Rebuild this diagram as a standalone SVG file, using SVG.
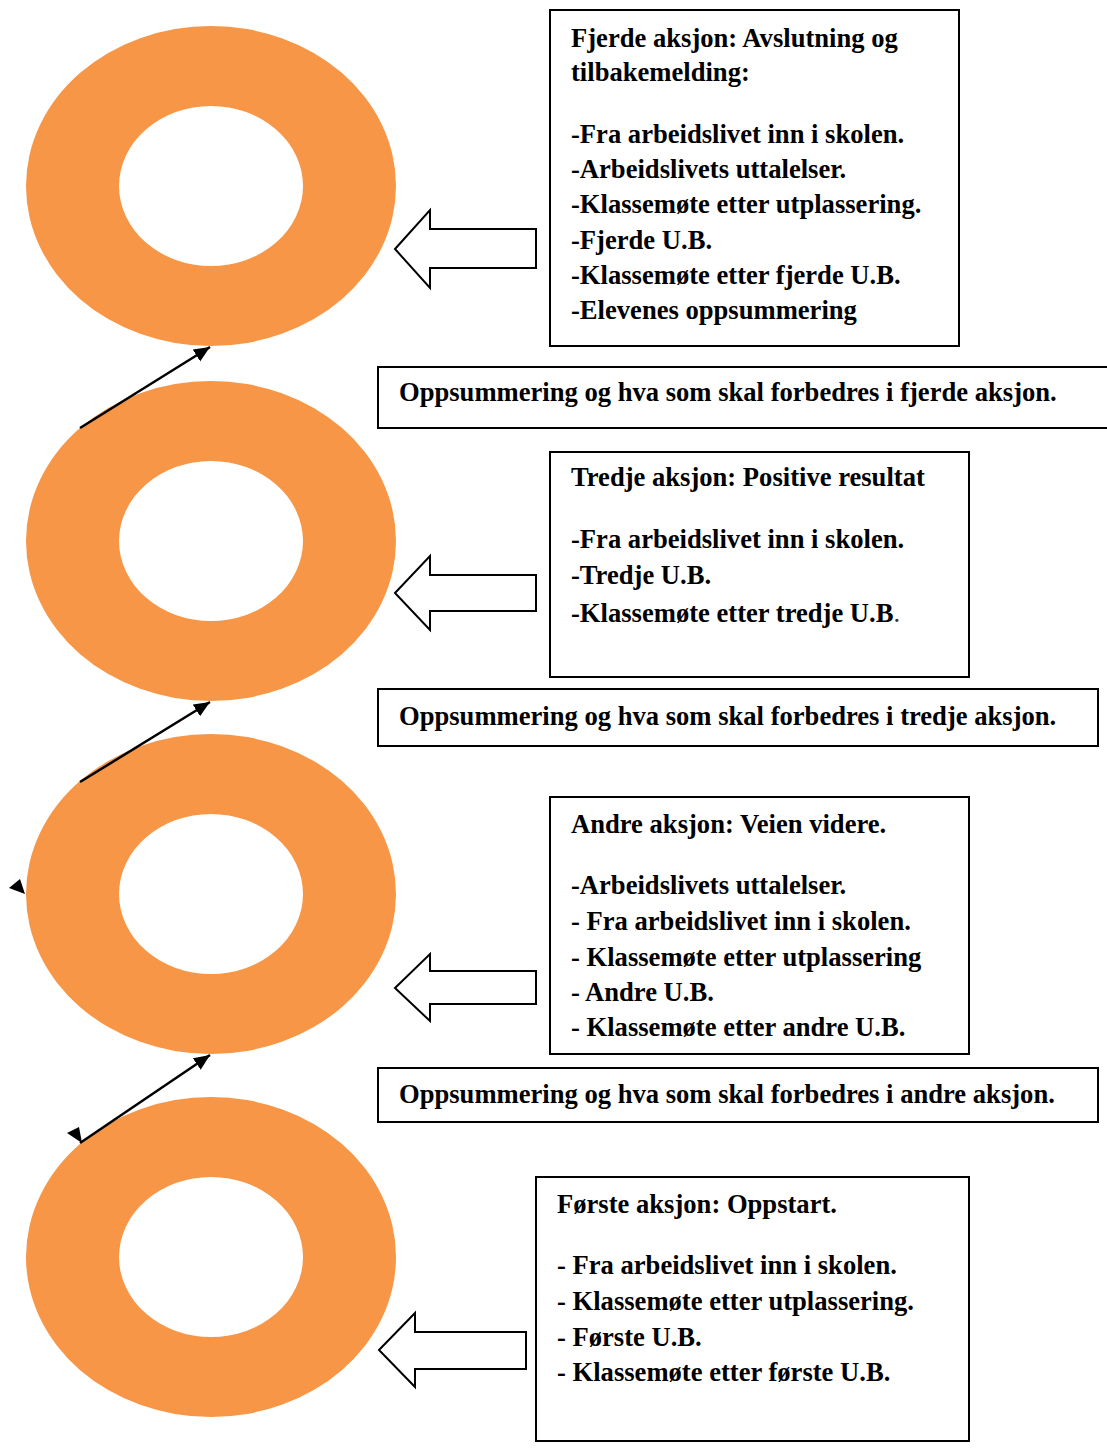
<svg xmlns="http://www.w3.org/2000/svg" width="1107" height="1448" viewBox="0 0 1107 1448">
<style>
.ring{fill:#F79646;fill-rule:evenodd}
.box{fill:#fff;stroke:#000;stroke-width:2}
.barrow{fill:#fff;stroke:#000;stroke-width:2;stroke-linejoin:miter}
.t{font-family:"Liberation Serif","Times New Roman",serif;font-weight:bold;font-size:26.6px;fill:#000}
.conn{stroke:#000;stroke-width:2.5;fill:none}
.head{fill:#000}
</style>
<defs>
<marker id="ah" markerUnits="userSpaceOnUse" markerWidth="18" markerHeight="16" refX="16" refY="7" orient="auto">
<path d="M0,0 L16,7 L0,14 Z" fill="#000"/>
</marker>
</defs>
<rect width="1107" height="1448" fill="#fff"/>
<g id="ring4">
<path class="ring" d="M26,186 a185,160 0 1,0 370,0 a185,160 0 1,0 -370,0 Z M119,186 a92,80 0 1,0 184,0 a92,80 0 1,0 -184,0 Z"/>
</g>
<g id="ring3">
<path class="ring" d="M26,541 a185,160 0 1,0 370,0 a185,160 0 1,0 -370,0 Z M119,541 a92,80 0 1,0 184,0 a92,80 0 1,0 -184,0 Z"/>
</g>
<g id="ring2">
<path class="ring" d="M26,894 a185,160 0 1,0 370,0 a185,160 0 1,0 -370,0 Z M119,894 a92,80 0 1,0 184,0 a92,80 0 1,0 -184,0 Z"/>
</g>
<g id="ring1">
<path class="ring" d="M26,1257 a185,160 0 1,0 370,0 a185,160 0 1,0 -370,0 Z M119,1257 a92,80 0 1,0 184,0 a92,80 0 1,0 -184,0 Z"/>
</g>
<g id="connectors">
<line class="conn" x1="80" y1="428" x2="210" y2="347" marker-end="url(#ah)"/>
<line class="conn" x1="80" y1="782" x2="210" y2="702" marker-end="url(#ah)"/>
<line class="conn" x1="80" y1="1143" x2="210" y2="1055" marker-end="url(#ah)"/>
<polygon class="head" points="9,888 20,879 25,894"/>
<polygon class="head" points="67,1133 79,1127 82,1143"/>
<polygon class="barrow" points="395,249 430,210 430,229 536,229 536,268 430,268 430,288"/>
<polygon class="barrow" points="395,593 430,556 430,575 536,575 536,611 430,611 430,630"/>
<polygon class="barrow" points="395,988 430,954 430,971 536,971 536,1004 430,1004 430,1021"/>
<polygon class="barrow" points="379,1350 415,1313 415,1332 526,1332 526,1369 415,1369 415,1387"/>
</g>
<g id="box-fjerde">
<rect class="box" x="550" y="10" width="409" height="336"/>
<text class="t" x="571" y="47">Fjerde aksjon: Avslutning og</text>
<text class="t" x="571" y="81">tilbakemelding:</text>
<text class="t" x="571" y="143">-Fra arbeidslivet inn i skolen.</text>
<text class="t" x="571" y="178">-Arbeidslivets uttalelser.</text>
<text class="t" x="571" y="213">-Klassemøte etter utplassering.</text>
<text class="t" x="571" y="249">-Fjerde U.B.</text>
<text class="t" x="571" y="284">-Klassemøte etter fjerde U.B.</text>
<text class="t" x="571" y="319">-Elevenes oppsummering</text>
</g>
<g id="sum-fjerde">
<rect class="box" x="378" y="367" width="740" height="61"/>
<text class="t" x="399" y="401">Oppsummering og hva som skal forbedres i fjerde aksjon.</text>
</g>
<g id="box-tredje">
<rect class="box" x="550" y="452" width="419" height="225"/>
<text class="t" x="571" y="486">Tredje aksjon: Positive resultat</text>
<text class="t" x="571" y="548">-Fra arbeidslivet inn i skolen.</text>
<text class="t" x="571" y="584">-Tredje U.B.</text>
<text class="t" x="571" y="622">-Klassemøte etter tredje U.B<tspan font-weight="normal" fill="#333">.</tspan></text>
</g>
<g id="sum-tredje">
<rect class="box" x="378" y="689" width="720" height="57"/>
<text class="t" x="399" y="725">Oppsummering og hva som skal forbedres i tredje aksjon.</text>
</g>
<g id="box-andre">
<rect class="box" x="550" y="797" width="419" height="257"/>
<text class="t" x="571" y="833">Andre aksjon: Veien videre.</text>
<text class="t" x="571" y="894">-Arbeidslivets uttalelser.</text>
<text class="t" x="571" y="930">- Fra arbeidslivet inn i skolen.</text>
<text class="t" x="571" y="966">- Klassemøte etter utplassering</text>
<text class="t" x="571" y="1001">- Andre U.B.</text>
<text class="t" x="571" y="1036">- Klassemøte etter andre U.B.</text>
</g>
<g id="sum-andre">
<rect class="box" x="378" y="1068" width="720" height="54"/>
<text class="t" x="399" y="1103">Oppsummering og hva som skal forbedres i andre aksjon.</text>
</g>
<g id="box-forste">
<rect class="box" x="536" y="1177" width="433" height="264"/>
<text class="t" x="557" y="1213">Første aksjon: Oppstart.</text>
<text class="t" x="557" y="1274">- Fra arbeidslivet inn i skolen.</text>
<text class="t" x="557" y="1310">- Klassemøte etter utplassering.</text>
<text class="t" x="557" y="1346">- Første U.B.</text>
<text class="t" x="557" y="1381">- Klassemøte etter første U.B.</text>
</g>
</svg>
